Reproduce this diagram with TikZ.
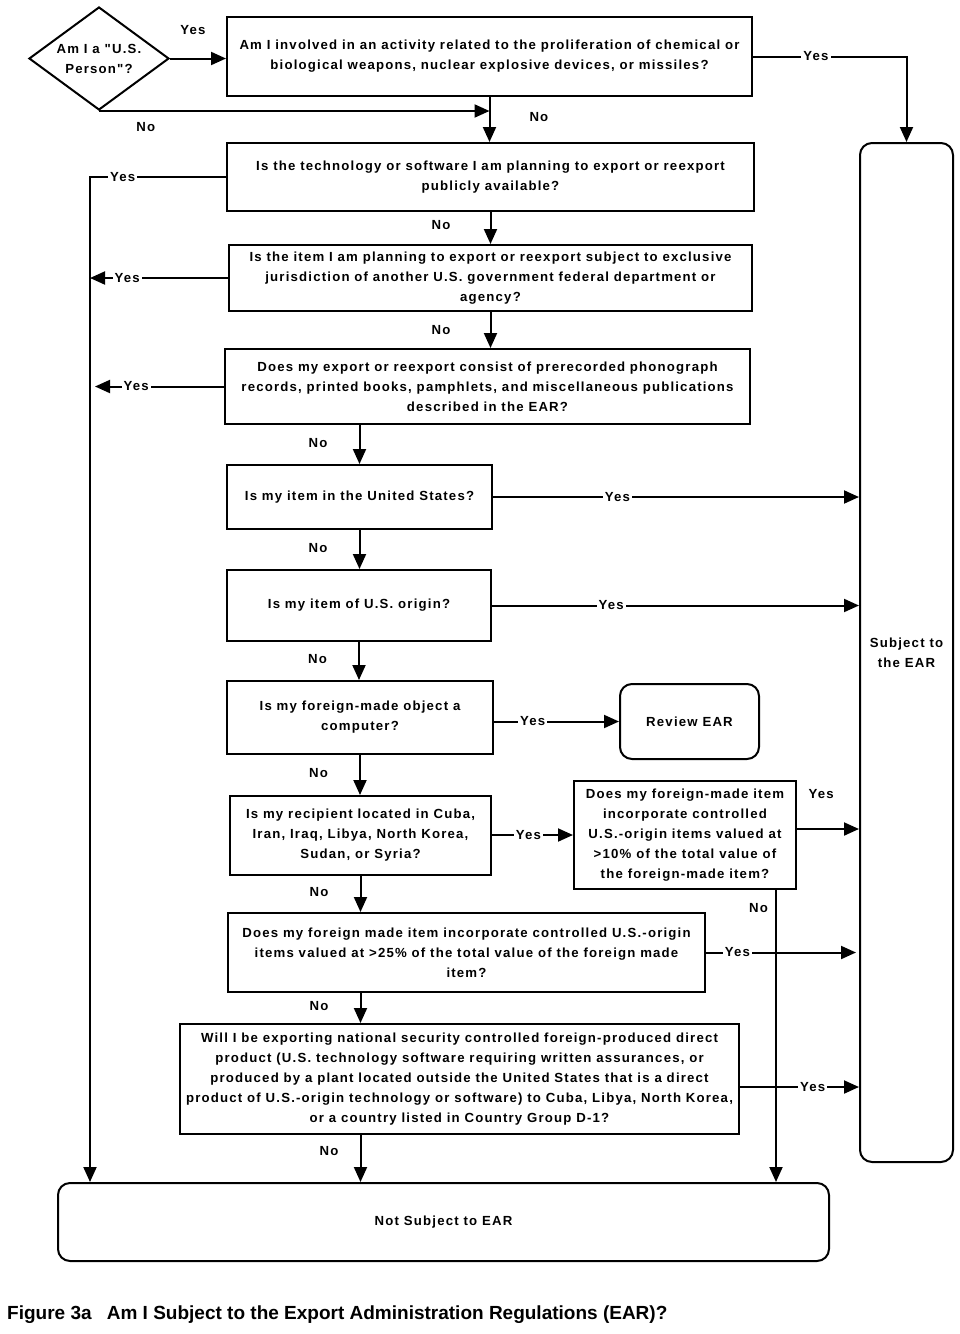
\documentclass[tikz,border=0pt]{standalone}
\usepackage{fontspec}
\setmainfont{Liberation Sans}
\newfontfamily\bodyfont{Liberation Sans}[LetterSpace=9]
\newfontfamily\capfont{Liberation Sans}
\usetikzlibrary{shapes.geometric,arrows.meta}
\newcommand{\qfont}{\bodyfont\fontsize{13.2}{20}\selectfont\bfseries}
\tikzset{
    qbox/.style={draw, line width=2pt, align=center, inner sep=0pt, font=\qfont},
    endbox/.style={qbox, rounded corners=12pt},
    flow/.style={line width=2pt, -{Triangle[length=15pt,width=13pt]}},
    lbl/.style={fill=white, inner sep=2pt, font=\qfont},
    plain/.style={inner sep=1pt, font=\qfont},
}
\begin{document}
\begin{tikzpicture}[x=1pt,y=-1pt]
    \useasboundingbox (0,0) rectangle (959,1334);

    % kotak-kotak pertanyaan
    \node[qbox, shape=diamond, aspect=1.36, minimum width=140pt, minimum height=103pt] (us) at (99,58.5) {Am I a "U.S.\\Person"?};
    \node[qbox, minimum width=525pt, minimum height=79pt] (A) at (489.5,56.5) {Am I involved in an activity related to the proliferation of chemical or\\biological weapons, nuclear explosive devices, or missiles?};
    \node[qbox, minimum width=527pt, minimum height=68pt] (B) at (490.5,177) {Is the technology or software I am planning to export or reexport\\publicly available?};
    \node[qbox, minimum width=523pt, minimum height=66pt] (C) at (490.5,278) {Is the item I am planning to export or reexport subject to exclusive\\jurisdiction of another U.S. government federal department or\\agency?};
    \node[qbox, minimum width=525pt, minimum height=75pt] (D) at (487.5,386.5) {Does my export or reexport consist of prerecorded phonograph\\records, printed books, pamphlets, and miscellaneous publications\\described in the EAR?};
    \node[qbox, minimum width=265pt, minimum height=64pt] (E) at (359.5,497) {Is my item in the United States?};
    \node[qbox, minimum width=264pt, minimum height=71pt] (F) at (359,605.5) {Is my item of U.S. origin?};
    \node[qbox, minimum width=266pt, minimum height=73pt] (G) at (360,717.5) {Is my foreign-made object a\\computer?};
    \node[qbox, minimum width=261pt, minimum height=79pt] (H) at (360.5,835.5) {Is my recipient located in Cuba,\\Iran, Iraq, Libya, North Korea,\\Sudan, or Syria?};
    \node[qbox, minimum width=222pt, minimum height=108pt] (I) at (685,835) {Does my foreign-made item\\incorporate controlled\\U.S.-origin items valued at\\>10\% of the total value of\\the foreign-made item?};
    \node[qbox, minimum width=477pt, minimum height=79pt] (J) at (466.5,952.5) {Does my foreign made item incorporate controlled U.S.-origin\\items valued at >25\% of the total value of the foreign made\\item?};
    \node[qbox, minimum width=559pt, minimum height=110pt] (K) at (459.5,1079) {Will I be exporting national security controlled foreign-produced direct\\product (U.S. technology software requiring written assurances, or\\produced by a plant located outside the United States that is a direct\\product of U.S.-origin technology or software) to Cuba, Libya, North Korea,\\or a country listed in Country Group D-1?};

    % kotak-kotak hasil
    \node[endbox, minimum width=93pt, minimum height=1019pt] (S) at (906.5,652.5) {Subject to\\the EAR};
    \node[endbox, minimum width=139pt, minimum height=75pt] (R) at (689.5,721.5) {Review EAR};
    \node[endbox, minimum width=771pt, minimum height=78pt] (N) at (443.5,1222) {Not Subject to EAR};
    \coordinate (lft) at (90,177);

    % panah-panah
    \draw[flow] (us.east) -- node[plain, pos=0.41, above=22pt]{Yes} (A.west |- us.east);
    \draw[flow] (us.south) -- node[plain, pos=0.12, below=9pt]{No} (us.south -| A.south);
    \draw[flow] (A.south) -- node[plain, pos=0.45, right=38pt]{No} (A.south |- B.north);
    \draw[flow] (A.east) -- node[lbl, pos=0.41]{Yes} (A.east -| S.north) -- (S.north);
    \draw[flow] (B.west) -- node[lbl, pos=0.76]{Yes} (lft) -- (lft |- N.north);
    \draw[flow] (B.south) -- node[plain, pos=0.4, left=38pt]{No} (C.north);
    \draw[flow] (C.west) -- node[lbl, pos=0.73]{Yes} (C.west -| lft);
    \draw[flow] (C.south) -- node[plain, pos=0.5, left=38pt]{No} (C.south |- D.north);
    \draw[flow] (D.west) -- node[lbl, pos=0.68]{Yes} ([xshift=5pt]D.west -| lft);
    \draw[flow] (E.north |- D.south) -- node[plain, pos=0.45, left=30pt]{No} (E.north);
    \draw[flow] (E.east) -- node[lbl, pos=0.34]{Yes} (E.east -| S.west);
    \draw[flow] (E.south) -- node[plain, pos=0.45, left=30pt]{No} (E.south |- F.north);
    \draw[flow] (F.east) -- node[lbl, pos=0.325]{Yes} (F.east -| S.west);
    \draw[flow] (F.south) -- node[plain, pos=0.45, left=30pt]{No} (F.south |- G.north);
    \draw[flow] (G.east |- R.west) -- node[lbl, pos=0.31]{Yes} (R.west);
    \draw[flow] (G.south) -- node[plain, pos=0.45, left=30pt]{No} (G.south |- H.north);
    \draw[flow] (H.east |- I.west) -- node[lbl, pos=0.45]{Yes} (I.west);
    \draw[flow] ([yshift=6pt]I.east) -- node[plain, pos=0.39, above=28pt]{Yes} ([yshift=6pt]I.east -| S.west);
    \draw[flow] ([xshift=91pt]I.south) -- node[plain, pos=0.06, left=6pt]{No} ([xshift=91pt]I.south |- N.north);
    \draw[flow] (H.south) -- node[plain, pos=0.45, left=30pt]{No} (H.south |- J.north);
    \draw[flow] (J.east) -- node[lbl, pos=0.21]{Yes} ([xshift=-3pt]J.east -| S.west);
    \draw[flow] (H.south |- J.south) -- node[plain, pos=0.45, left=30pt]{No} (H.south |- K.north);
    \draw[flow] ([yshift=-8pt]K.east) -- node[lbl, pos=0.61]{Yes} ([yshift=-8pt]K.east -| S.west);
    \draw[flow] (H.south |- K.south) -- node[plain, pos=0.35, left=20pt]{No} (H.south |- N.north);

    % judul
    \node[anchor=west, inner sep=0pt, font=\capfont\fontsize{19}{21}\selectfont\bfseries] (cap) at (7,1315) {Figure 3a\hspace{0.8em}Am I Subject to the Export Administration Regulations (EAR)?};
\end{tikzpicture}
\end{document}
